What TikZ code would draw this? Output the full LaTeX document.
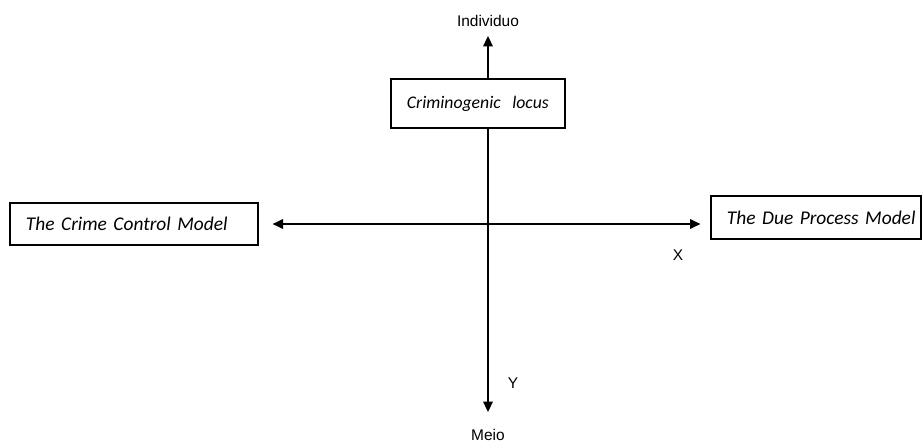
\documentclass[tikz,border=0pt]{standalone}
\usepackage{fontspec}
\setmainfont{Liberation Sans}
\newfontfamily\calibri{Carlito}
\usetikzlibrary{arrows.meta,positioning}

\tikzset{
	modelbox/.style={draw, line width=0.8pt, inner xsep=0.4cm, inner ysep=0pt, align=left,
		font=\calibri\itshape\fontsize{13.8}{16}\selectfont},
	axislabel/.style={inner sep=0pt, font=\fontsize{11}{13}\selectfont}
}

\begin{document}
\begin{tikzpicture}[x=0.025cm, y=-0.025cm, >={Triangle[length=0.26cm,width=0.24cm]}, line width=1.1pt]
	\useasboundingbox (0,0) rectangle (922,442);

	\node[modelbox, text width=5.4cm, minimum height=1.05cm](crime) at (134,224) {\mbox{The Crime Control Model}};
	\node[modelbox, text width=4.45cm, minimum height=1.075cm](due) at (816,217.5) {\mbox{The Due Process Model}};
	\node[modelbox, text width=3.55cm, minimum height=1.225cm, font=\calibri\itshape\fontsize{12.6}{15}\selectfont](locus) at (478,103.5) {\mbox{Criminogenic\hspace{4pt} locus}};

	\node[axislabel](ind) at (488,21) {Individuo};
	\node[axislabel](meio) at (488,435) {Meio};
	\node[axislabel](xl) at (678,255) {X};
	\node[axislabel](yl) at (513,383) {Y};

	\coordinate (ytop) at (488,36);
	\coordinate (ybot) at (488,412);

	\draw[<->, shorten <=0.35cm, shorten >=0.25cm] (crime.east) -- (due.west |- crime.east);
	\draw[->] (locus.north -| ytop) -- (ytop);
	\draw[->] (locus.south -| ytop) -- (ybot);
\end{tikzpicture}
\end{document}
